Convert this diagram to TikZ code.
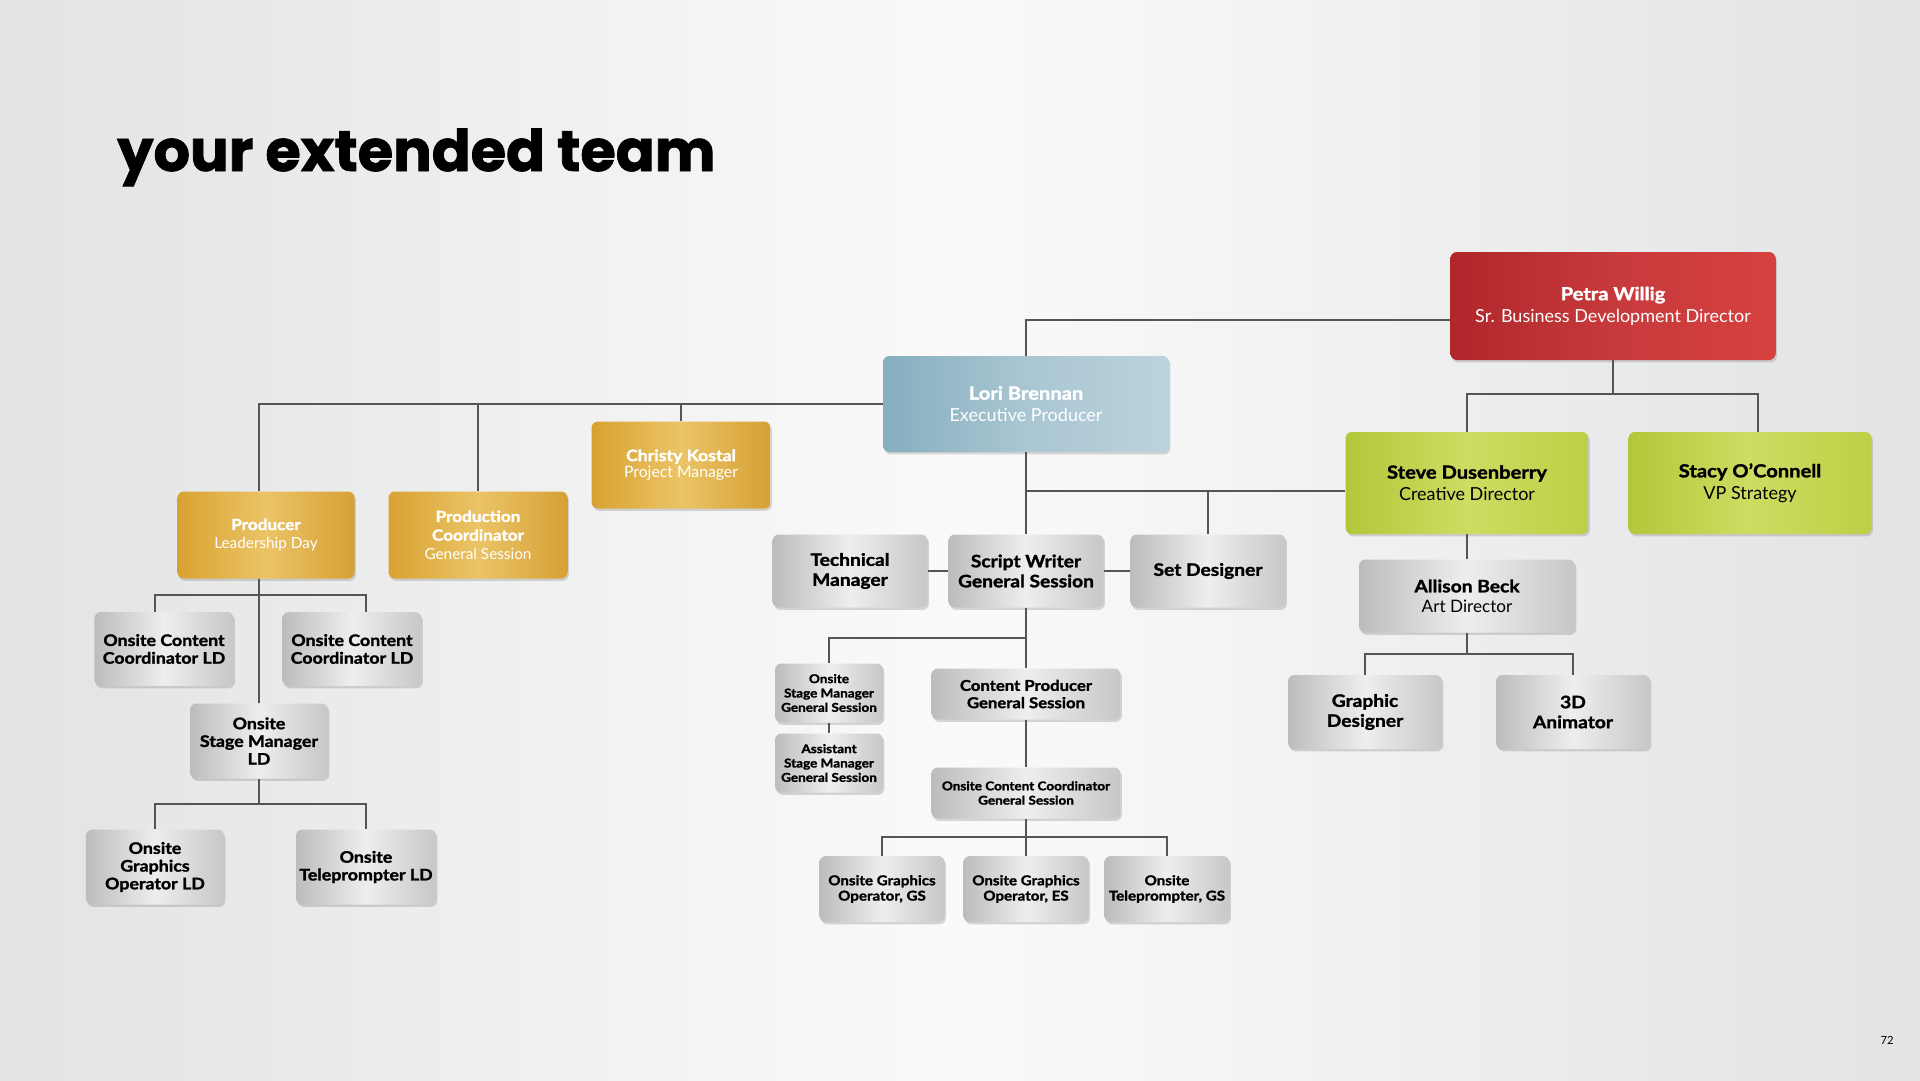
\documentclass[tikz,border=0pt]{standalone}
\usepackage{fontspec}
\setmainfont{Lato}[BoldFeatures={FakeBold=1.6, FakeStretch=1.12}]
\newfontfamily\titlefont{Poppins}[BoldFeatures={FakeBold=1.4}]
\usetikzlibrary{shadows,calc}

% Plate colours
\definecolor{redL}{HTML}{B0262A}
\definecolor{redM}{HTML}{C73A3C}
\definecolor{redR}{HTML}{D6403F}
\definecolor{blueL}{HTML}{86AEBF}
\definecolor{blueM}{HTML}{A9C6D2}
\definecolor{blueR}{HTML}{BCD3DD}
\definecolor{goldL}{HTML}{D8A231}
\definecolor{goldM}{HTML}{EBC466}
\definecolor{goldR}{HTML}{D6A035}
\definecolor{limeL}{HTML}{B3C739}
\definecolor{limeM}{HTML}{CEDC62}
\definecolor{limeR}{HTML}{BDCF44}
\definecolor{silverL}{HTML}{BCBCBC}
\definecolor{silverM}{HTML}{EEEEEE}
\definecolor{silverR}{HTML}{C7C7C7}
\definecolor{bgEdge}{HTML}{E2E3E4}
\definecolor{bgMid}{HTML}{FAFAFA}
\definecolor{linkgray}{HTML}{555555}

% Font sizes
\newcommand{\leadfont}{\fontsize{12.8}{15.6}\selectfont}
\newcommand{\pmfont}{\fontsize{11.2}{11.8}\selectfont}
\newcommand{\prodfont}{\fontsize{10.9}{13.3}\selectfont}
\newcommand{\silverfont}{\fontsize{12.2}{14.2}\selectfont}
\newcommand{\ldplatefont}{\fontsize{11.3}{12.6}\selectfont}
\newcommand{\cpfont}{\fontsize{10.6}{12.3}\selectfont}
\newcommand{\tinyplatefont}{\fontsize{8.6}{10.2}\selectfont}
\newcommand{\opfont}{\fontsize{9.6}{10.9}\selectfont}
\newcommand{\pagefont}{\fontsize{8}{8}\selectfont}

\begin{document}
\begin{tikzpicture}[x=0.25mm, y=-0.25mm,
    plate/.style={rounded corners=1.6mm, inner sep=0pt, align=center,
      drop shadow={shadow xshift=0.35mm, shadow yshift=-0.6mm, opacity=0.3}},
    redplate/.style={plate, left color=redL, right color=redR, middle color=redM, text=white},
    blueplate/.style={plate, left color=blueL, right color=blueR, middle color=blueM, text=white},
    goldplate/.style={plate, left color=goldL, right color=goldR, middle color=goldM, text=white},
    limeplate/.style={plate, left color=limeL, right color=limeR, middle color=limeM, text=black},
    silverplate/.style={plate, left color=silverL, right color=silverR, middle color=silverM, text=black},
    link/.style={draw=linkgray, line width=0.4mm}]

    % Background and page size
    \shade[left color=bgEdge, right color=bgEdge, middle color=bgMid] (0,0) rectangle (1920,1080);
    \useasboundingbox (0,0) rectangle (1920,1080);

    % Title
    \node[anchor=base west, inner sep=0pt, font=\titlefont\bfseries\fontsize{40.8}{40.8}\selectfont] (title) at (117,171) {your extended team};

    % Leads
    \node[redplate, minimum width=81.25mm, minimum height=27mm, font=\leadfont] (petra) at (1613,306) {\textbf{Petra Willig}\\Sr. Business Development Director};
    \node[blueplate, minimum width=71.5mm, minimum height=24mm, font=\leadfont] (lori) at (1026,404) {\textbf{Lori Brennan}\\Executive Producer};
    \node[limeplate, minimum width=60.75mm, minimum height=25.5mm, font=\leadfont] (steve) at (1467,483) {\textbf{Steve Dusenberry}\\Creative Director};
    \node[limeplate, minimum width=60.75mm, minimum height=25.5mm, font=\leadfont] (stacy) at (1750,483) {\textbf{Stacy O’Connell}\\VP Strategy};

    % Production side
    \node[goldplate, minimum width=44.75mm, minimum height=21.75mm, font=\pmfont] (christy) at (681,465) {\textbf{Christy Kostal}\\Project Manager};
    \node[goldplate, minimum width=44.25mm, minimum height=21.75mm, font=\prodfont] (producer) at (266,535) {\textbf{Producer}\\Leadership Day};
    \node[goldplate, minimum width=44.75mm, minimum height=21.75mm, font=\prodfont] (prodcoord) at (478,535) {\textbf{Production}\\\textbf{Coordinator}\\General Session};

    % Leadership Day crew
    \node[silverplate, minimum width=34.75mm, minimum height=18.5mm, font=\ldplatefont\bfseries] (occldA) at (164,649) {Onsite Content\\Coordinator LD};
    \node[silverplate, minimum width=34.75mm, minimum height=18.5mm, font=\ldplatefont\bfseries] (occldB) at (352,649) {Onsite Content\\Coordinator LD};
    \node[silverplate, minimum width=34.5mm, minimum height=18.75mm, font=\ldplatefont\bfseries] (osmld) at (259,741) {Onsite\\Stage Manager\\LD};
    \node[silverplate, minimum width=34.5mm, minimum height=18.75mm, font=\ldplatefont\bfseries] (ogold) at (155,867) {Onsite\\Graphics\\Operator LD};
    \node[silverplate, minimum width=35mm, minimum height=18.75mm, font=\ldplatefont\bfseries] (otpld) at (366,867) {Onsite\\Teleprompter LD};

    % General Session crew
    \node[silverplate, minimum width=38.75mm, minimum height=18.25mm, font=\silverfont\bfseries] (techmgr) at (850,571) {Technical\\Manager};
    \node[silverplate, minimum width=38.75mm, minimum height=18.25mm, font=\silverfont\bfseries] (scriptw) at (1026,571) {Script Writer\\General Session};
    \node[silverplate, minimum width=38.75mm, minimum height=18.25mm, font=\silverfont\bfseries] (setdes) at (1208,571) {Set Designer};
    \node[silverplate, minimum width=27mm, minimum height=14.75mm, font=\tinyplatefont\bfseries] (osmgs) at (829,693) {Onsite\\Stage Manager\\General Session};
    \node[silverplate, minimum width=27mm, minimum height=14.75mm, font=\tinyplatefont\bfseries] (asmgs) at (829,763) {Assistant\\Stage Manager\\General Session};
    \node[silverplate, minimum width=47.25mm, minimum height=12.75mm, font=\cpfont\bfseries] (cpgs) at (1026,694) {Content Producer\\General Session};
    \node[silverplate, minimum width=47.25mm, minimum height=12.75mm, font=\tinyplatefont\bfseries] (occgs) at (1026,793) {Onsite Content Coordinator\\General Session};
    \node[silverplate, minimum width=31.25mm, minimum height=16.5mm, font=\opfont\bfseries] (ogogs) at (882,889) {Onsite Graphics\\Operator, GS};
    \node[silverplate, minimum width=31.25mm, minimum height=16.5mm, font=\opfont\bfseries] (ogoes) at (1026,889) {Onsite Graphics\\Operator, ES};
    \node[silverplate, minimum width=31.25mm, minimum height=16.5mm, font=\opfont\bfseries] (otpgs) at (1167,889) {Onsite\\Teleprompter, GS};

    % Creative crew
    \node[silverplate, minimum width=54mm, minimum height=18.25mm, font=\silverfont] (allison) at (1467,596) {\textbf{Allison Beck}\\Art Director};
    \node[silverplate, minimum width=38.5mm, minimum height=18.5mm, font=\silverfont\bfseries] (graphdes) at (1365,712) {Graphic\\Designer};
    \node[silverplate, minimum width=38.5mm, minimum height=18.5mm, font=\silverfont\bfseries] (animator) at (1573,712) {3D\\Animator};

    % Page number
    \node[font=\pagefont] (pageno) at (1887,1040) {72};

    % Forks
    \coordinate (creative) at ([yshift=-2mm]steve.west);
    \coordinate (prodtop) at ([xshift=-1.75mm]producer.north);
    \coordinate (prodbot) at ([xshift=-1.75mm]producer.south);
    \coordinate (ldfork) at ($(producer.south)!0.5!(occldA.north)$);
    \coordinate (smfork) at ($(osmld.south)!0.5!(ogold.north)$);
    \coordinate (swfork) at ($(scriptw.south)!0.5!(cpgs.north)$);
    \coordinate (occfork) at ($(occgs.south)!0.5!(ogoes.north)$);
    \coordinate (artfork) at ($(allison.south)!0.5!(graphdes.north)$);

    % Connectors from the top
    \draw[link] ([yshift=-3.5mm]petra.west) -| (lori.north);
    \draw[link] (petra.south) -- ++(0,34) -| (steve.north);
    \draw[link] (petra.south) -- ++(0,34) -| ([xshift=2mm]stacy.north);
    \draw[link] (lori.west) -| (prodtop);
    \draw[link] (prodcoord.north) -- (prodcoord.north |- lori.west);
    \draw[link] (christy.north) -- (christy.north |- lori.west);
    \draw[link] (lori.south) -- (scriptw.north);
    \draw[link] (lori.south |- creative) -- (creative);
    \draw[link] (setdes.north) -- (setdes.north |- creative);
    \draw[link] (techmgr) -- (scriptw) -- (setdes);

    % Leadership Day
    \draw[link] (prodbot) -- (osmld.north);
    \draw[link] (ogold.north |- occldA.north) |- (ldfork) -| (otpld.north |- occldB.north);
    \draw[link] (osmld.south) -- (osmld.south |- smfork);
    \draw[link] (ogold.north) |- (smfork) -| (otpld.north);

    % General Session
    \draw[link] (scriptw.south) -- (cpgs.north);
    \draw[link] (osmgs.north) |- (swfork);
    \draw[link] (osmgs) -- (asmgs);
    \draw[link] (cpgs) -- (occgs);
    \draw[link] (occgs) -- (ogoes);
    \draw[link] (ogogs.north) |- (occfork) -| (otpgs.north);

    % Creative
    \draw[link] (steve) -- (allison);
    \draw[link] (allison.south) -- (allison.south |- artfork);
    \draw[link] (graphdes.north) |- (artfork) -| (animator.north);
\end{tikzpicture}
\end{document}
